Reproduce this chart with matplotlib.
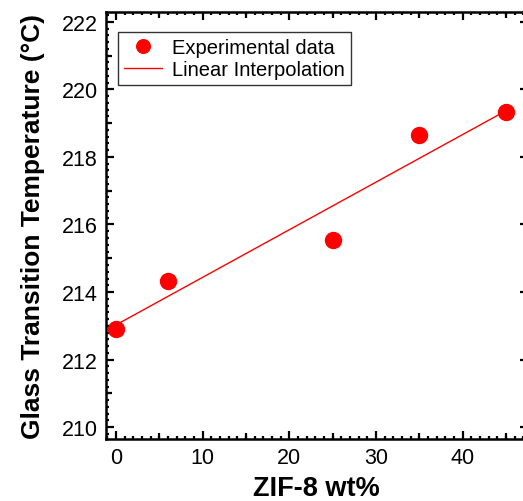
import numpy as np
import matplotlib
matplotlib.use("Agg")
import matplotlib.pyplot as plt
from matplotlib.ticker import MultipleLocator, FixedLocator, NullFormatter

plt.rcParams['font.family'] = ['Liberation Sans', 'DejaVu Sans']

zif_wt = [0, 6, 25, 35, 45]
tg = [212.92, 214.33, 215.55, 218.65, 219.32]

fig = plt.figure(figsize=(5.23, 5.02), dpi=100)
ax = fig.add_axes([0.2027, 0.1235, 0.806, 0.8506])

ax.plot(zif_wt, tg, 'o', color='#ff0000', markersize=11.5, label='Experimental data', zorder=3)
coef = np.polyfit(zif_wt, tg, 1)
xfit = np.array([min(zif_wt), max(zif_wt)])
ax.plot(xfit, np.polyval(coef, xfit), '-', color='#ff0000', lw=1.0, label='Linear Interpolation', zorder=2)

ax.set_xlim(-1.15, 47.5)
ax.set_ylim(209.65, 222.29)

ax.xaxis.set_major_locator(MultipleLocator(10))
ax.xaxis.set_minor_locator(MultipleLocator(1))
ax.yaxis.set_major_locator(MultipleLocator(2))
ax.yaxis.set_minor_locator(MultipleLocator(0.2))

for s in ax.spines.values():
    s.set_linewidth(1.8)

ax.tick_params(which='major', direction='in', length=6, width=1.6, top=True, right=True,
               labelsize=15.5, pad=6)
ax.tick_params(which='minor', direction='in', length=2.5, width=1.6, top=True, right=True)

# medium ticks
for side in ['bottom', 'top']:
    sec = ax.secondary_xaxis(side)
    sec.xaxis.set_major_locator(FixedLocator([5, 15, 25, 35, 45]))
    sec.xaxis.set_major_formatter(NullFormatter())
    sec.xaxis.set_minor_locator(FixedLocator([]))
    sec.tick_params(which='major', direction='in', length=4, width=1.6)
    for s in sec.spines.values():
        s.set_visible(False)
sec = ax.secondary_yaxis('left')
sec.yaxis.set_major_locator(FixedLocator([211, 213, 215, 217, 219, 221]))
sec.yaxis.set_major_formatter(NullFormatter())
sec.yaxis.set_minor_locator(FixedLocator([]))
sec.tick_params(which='major', direction='in', length=4, width=1.6)
for s in sec.spines.values():
    s.set_visible(False)

ax.set_xlabel('ZIF-8 wt%', fontsize=19.5, fontweight='bold', labelpad=5)
ax.set_ylabel('Glass Transition Temperature (°C)', fontsize=19, fontweight='bold', labelpad=12)

leg = ax.legend(loc='upper left', bbox_to_anchor=(0.0285, 0.953), borderaxespad=0,
                fontsize=14.5, frameon=True, fancybox=False, edgecolor='black',
                handlelength=1.9, borderpad=0.3, labelspacing=0.15, handletextpad=0.5,
                markerscale=0.85)
leg.get_frame().set_linewidth(1.0)

fig.savefig('out.png', dpi=100)
